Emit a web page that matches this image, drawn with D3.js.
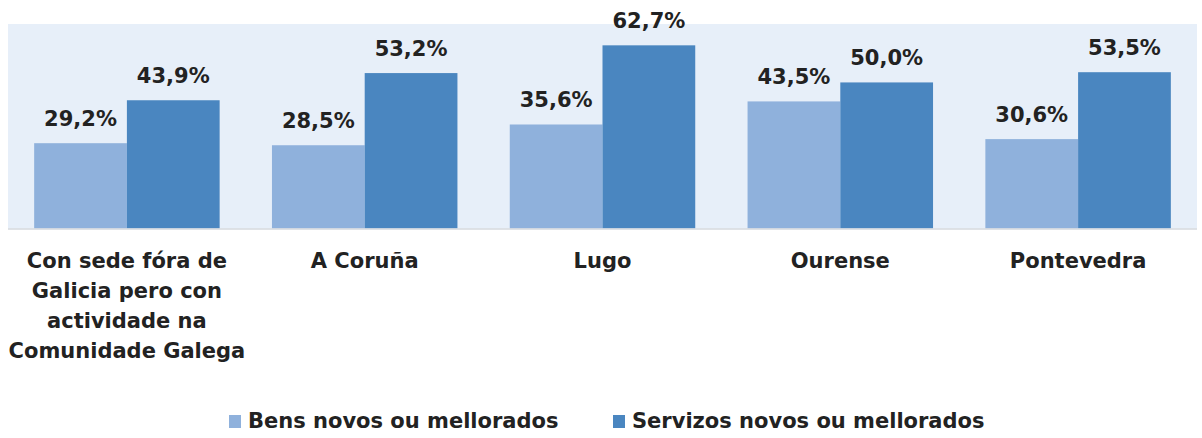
<!DOCTYPE html>
<html><head><meta charset="utf-8">
<script src="https://cdn.jsdelivr.net/npm/d3@7"></script>
<style>
html,body{margin:0;padding:0;background:#fff;}
svg{display:block;font-family:"DejaVu Sans",sans-serif;}
</style></head>
<body><svg id="chart" width="1202" height="438"></svg>
<script>
// Categories (each entry is the wrapped lines of the axis label)
const categories = [
  ["Con sede fóra de","Galicia pero con","actividade na","Comunidade Galega"],
  ["A Coruña"],
  ["Lugo"],
  ["Ourense"],
  ["Pontevedra"]
];
const seriesNames = ["Bens novos ou mellorados","Servizos novos ou mellorados"];
const bens     = [29.2, 28.5, 35.6, 43.5, 30.6];
const servizos = [43.9, 53.2, 62.7, 50.0, 53.5];
const colors = ["#8fb1dc", "#4a86c0"];

const FONT = "'DejaVu Sans', sans-serif";
const svg = d3.select("#chart");
const plot = {left: 8, right: 1197, top: 24, bottom: 228.5};

const keys = categories.map((c, i) => i);
const x0 = d3.scaleBand().domain(keys).range([plot.left, plot.right]).paddingInner(0.22).paddingOuter(0.11);
const x1 = d3.scaleBand().domain([0, 1]).range([0, x0.bandwidth()]).padding(0);
const y = d3.scaleLinear().domain([0, 70]).range([plot.bottom, plot.top]);

svg.append("rect")
  .attr("x", plot.left).attr("y", plot.top)
  .attr("width", plot.right - plot.left).attr("height", plot.bottom - plot.top)
  .attr("fill", "#e7eff9");

const fmt = v => d3.format(".1f")(v).replace(".", ",") + "%";
const series = [bens, servizos];

const groups = svg.append("g").selectAll("g").data(keys).join("g")
  .attr("transform", d => `translate(${x0(d)},0)`);

series.forEach((vals, s) => {
  groups.append("rect")
    .attr("x", x1(s)).attr("width", x1.bandwidth())
    .attr("y", d => y(vals[d])).attr("height", d => y(0) - y(vals[d]))
    .attr("fill", colors[s]);
  groups.append("text")
    .attr("x", x1(s) + x1.bandwidth() / 2)
    .attr("y", d => y(vals[d]) - 17)
    .attr("text-anchor", "middle")
    .attr("font-family", FONT)
    .attr("font-size", 21).attr("font-weight", 700).attr("fill", "#222")
    .text(d => fmt(vals[d]));
});

// baseline
svg.append("line")
  .attr("x1", plot.left).attr("x2", plot.right)
  .attr("y1", plot.bottom + 0.5).attr("y2", plot.bottom + 0.5)
  .attr("stroke", "#d4d8de").attr("stroke-width", 1.5);

// category axis
const xAxis = d3.axisBottom(x0).tickSize(0).tickFormat("");
const ax = svg.append("g").attr("transform", `translate(0,${plot.bottom})`).call(xAxis);
ax.select(".domain").remove();
ax.selectAll(".tick").each(function(d) {
  const t = d3.select(this).append("text")
    .attr("text-anchor", "middle").attr("fill", "#222")
    .attr("font-family", FONT)
    .attr("font-size", 21).attr("font-weight", 700);
  categories[d].forEach((line, i) => {
    t.append("tspan").attr("x", 0).attr("y", 39.5 + i * 30).text(line);
  });
});

// legend
const legendX = [229, 613];
const lg = svg.append("g");
seriesNames.forEach((name, i) => {
  lg.append("rect").attr("x", legendX[i]).attr("y", 415).attr("width", 12).attr("height", 13).attr("fill", colors[i]);
  lg.append("text").attr("x", legendX[i] + 19).attr("y", 428)
    .attr("font-family", FONT)
    .attr("font-size", 21).attr("font-weight", 700).attr("fill", "#222")
    .text(name);
});
</script></body></html>
